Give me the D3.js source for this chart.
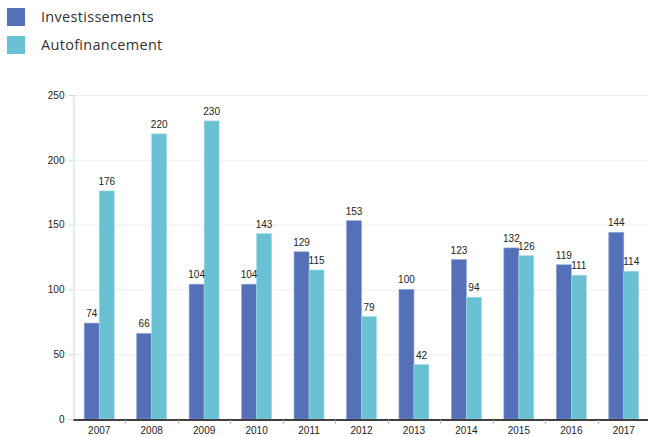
<!DOCTYPE html>
<html>
<head>
<meta charset="utf-8">
<script src="https://cdn.jsdelivr.net/npm/d3@7"></script>
<style>
  body { margin: 0; background: #fff; }
  svg { display: block; }
</style>
</head>
<body>
<svg id="chart" width="648" height="437"></svg>
<script>
const years = ["2007","2008","2009","2010","2011","2012","2013","2014","2015","2016","2017"];
const investissements = [74, 66, 104, 104, 129, 153, 100, 123, 132, 119, 144];
const autofinancement = [176, 220, 230, 143, 115, 79, 42, 94, 126, 111, 114];
const seriesNames = ["Investissements", "Autofinancement"];
const seriesColors = ["#5470b8", "#6bc1d4"];
const yTicks = [0, 50, 100, 150, 200, 250];

const svg = d3.select("#chart");
const margin = { left: 73, right: -2, top: 95, bottom: 18 };
const W = 648, H = 437;

const x = d3.scaleBand().domain(years).range([margin.left, W - margin.right]).paddingInner(0).paddingOuter(0);
const xs = d3.scaleBand().domain(seriesNames).range([0, 30]);
const y = d3.scaleLinear().domain([0, 250]).range([H - margin.bottom, margin.top]);

// gridlines
svg.append("g").selectAll("line").data(yTicks.filter(d => d > 0)).join("line")
  .attr("x1", margin.left).attr("x2", 648)
  .attr("y1", d => y(d) + 0.5).attr("y2", d => y(d) + 0.5)
  .attr("stroke", "#efefef");

// y axis
const yAxis = svg.append("g").attr("transform", `translate(${margin.left + 0.5},0)`)
  .call(d3.axisLeft(y).tickValues(yTicks).tickSize(5).tickPadding(4));
yAxis.select(".domain").attr("stroke", "#d8d8d8");
yAxis.selectAll(".tick line").attr("stroke", "#d8d8d8");
yAxis.selectAll("text").attr("font-family", "Liberation Sans, Arial, sans-serif").attr("font-size", 10).attr("fill", "#222");

// bars
const data = years.map((yr, i) => ({ year: yr, values: [investissements[i], autofinancement[i]] }));
const groups = svg.append("g").selectAll("g").data(data).join("g")
  .attr("transform", d => `translate(${x(d.year) + (x.bandwidth() - 30) / 2},0)`);

groups.selectAll("rect").data(d => d.values.map((v, j) => ({ v, j }))).join("rect")
  .attr("x", d => xs(seriesNames[d.j]))
  .attr("width", xs.bandwidth())
  .attr("y", d => y(d.v))
  .attr("height", d => y(0) - y(d.v))
  .attr("fill", d => seriesColors[d.j])
  .attr("stroke", d => d.j === 0 ? "#8fa2d6" : "#a4dbe6")
  .attr("stroke-width", 0.6);

groups.selectAll("text").data(d => d.values.map((v, j) => ({ v, j }))).join("text")
  .attr("x", d => xs(seriesNames[d.j]) + xs.bandwidth() / 2)
  .attr("y", d => y(d.v) - 6)
  .attr("text-anchor", "middle")
  .attr("font-family", "Liberation Sans, Arial, sans-serif")
  .attr("font-size", 10)
  .attr("fill", "#222")
  .text(d => d.v);

// x axis
const xAxis = svg.append("g").attr("transform", `translate(0,${y(0) + 0.5})`)
  .call(d3.axisBottom(x).tickSize(0).tickPadding(7));
xAxis.select(".domain").attr("stroke", "#000").attr("stroke-width", 1.5);
xAxis.selectAll("text").attr("font-family", "Liberation Sans, Arial, sans-serif").attr("font-size", 10).attr("fill", "#222");
svg.append("g").selectAll("line").data(years.slice(1)).join("line")
  .attr("x1", d => Math.round(x(d)) + 0.5).attr("x2", d => Math.round(x(d)) + 0.5)
  .attr("y1", y(0) + 1).attr("y2", y(0) + 5)
  .attr("stroke", "#bbb");

// legend
const legend = svg.append("g").selectAll("g").data(seriesNames).join("g")
  .attr("transform", (d, i) => `translate(7,${8 + i * 28})`);
legend.append("rect").attr("width", 18).attr("height", 18).attr("fill", (d, i) => seriesColors[i]);
legend.append("text").attr("x", 34).attr("y", 14)
  .attr("font-family", "Open Sans, Noto Sans, sans-serif").attr("font-size", 14.5)
  .attr("letter-spacing", 0.3).attr("fill", "#333")
  .text(d => d);
</script>
</body>
</html>
